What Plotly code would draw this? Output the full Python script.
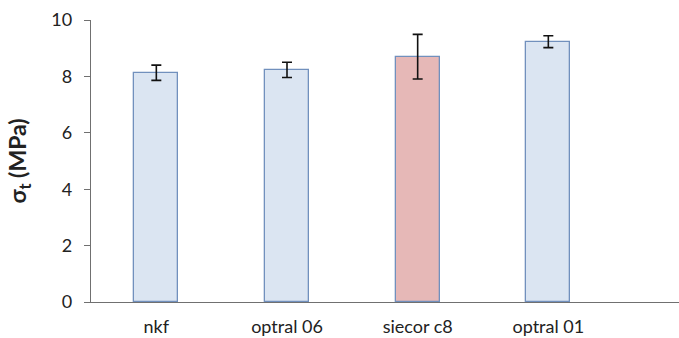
import plotly.graph_objects as go

categories = ["nkf", "optral 06", "siecor c8", "optral 01"]
values = [8.13, 8.23, 8.70, 9.23]
errors = [0.27, 0.27, 0.79, 0.21]
fills = ["#dbe5f2", "#dbe5f2", "#e6b8b7", "#dbe5f2"]

fig = go.Figure()
fig.add_trace(go.Bar(
    x=list(range(len(categories))), y=values,
    width=0.337,
    marker=dict(color=fills, line=dict(color="#7190bd", width=1.3)),
    error_y=dict(type="data", array=errors, visible=True, color="#111111",
                 thickness=1.6, width=5),
))

font_family = "Lato, 'Open Sans', sans-serif"
fig.update_layout(
    width=679, height=338,
    margin=dict(l=91, r=0, t=20, b=36),
    paper_bgcolor="white", plot_bgcolor="white",
    showlegend=False,
    font=dict(family=font_family, size=17, color="#222222"),
    bargap=0,
)
fig.update_xaxes(
    range=[-0.5, 4.0],
    tickmode="array", tickvals=list(range(len(categories))), ticktext=categories,
    showline=True, linecolor="#707070", linewidth=1.3,
    ticks="", showgrid=False, zeroline=False,
    ticklabelstandoff=8,
    tickfont=dict(size=18, family=font_family, color="#222222"),
)
fig.update_yaxes(
    range=[0, 10], dtick=2,
    showline=True, linecolor="#707070", linewidth=1.3,
    ticks="outside", ticklen=6, tickcolor="#707070",
    showgrid=False, zeroline=False,
    ticklabelstandoff=8,
    tickfont=dict(size=18, family=font_family, color="#222222"),
    title=dict(text="<b>σ<sub>t</sub> (MPa)</b>", standoff=18,
               font=dict(size=23, family=font_family, color="#222222")),
)
fig.write_html("out.html")
